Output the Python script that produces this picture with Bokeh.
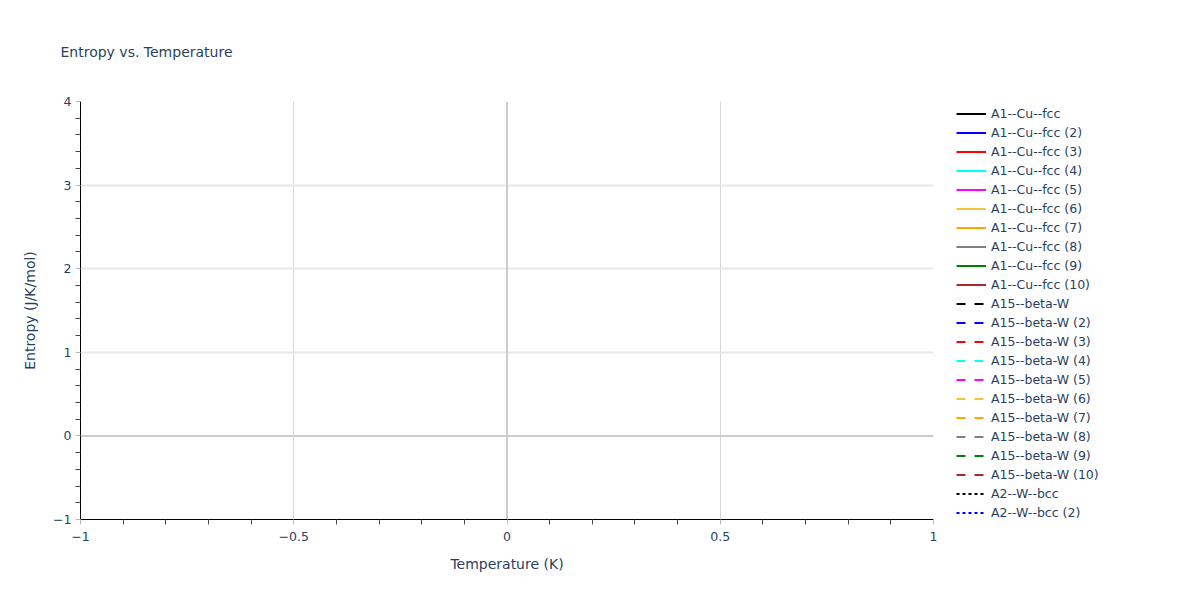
import math
from bokeh.plotting import figure
from bokeh.layouts import row
from bokeh.models import (Range1d, FixedTicker, Legend, LegendItem, Span, Title,
                          CustomJSTickFormatter)
from bokeh.embed import file_html
from bokeh.resources import INLINE

# ---- data ----
series_names = [
    "A1--Cu--fcc", "A1--Cu--fcc (2)", "A1--Cu--fcc (3)", "A1--Cu--fcc (4)",
    "A1--Cu--fcc (5)", "A1--Cu--fcc (6)", "A1--Cu--fcc (7)", "A1--Cu--fcc (8)",
    "A1--Cu--fcc (9)", "A1--Cu--fcc (10)",
    "A15--beta-W", "A15--beta-W (2)", "A15--beta-W (3)", "A15--beta-W (4)",
    "A15--beta-W (5)", "A15--beta-W (6)", "A15--beta-W (7)", "A15--beta-W (8)",
    "A15--beta-W (9)", "A15--beta-W (10)",
    "A2--W--bcc", "A2--W--bcc (2)",
]
palette = ["black", "blue", "red", "cyan", "magenta", "#f0c43c", "orange",
           "gray", "green", "brown"]
series_colors = palette + palette + ["black", "blue"]
series_dashes = ["solid"] * 10 + ["9 9"] * 10 + ["3 3"] * 2
# every series in the reference has no drawable points
temperature = [[math.nan] for _ in series_names]
entropy = [[math.nan] for _ in series_names]

x_major = [-1, -0.5, 0, 0.5, 1]
x_minor = [-0.9, -0.8, -0.7, -0.6, -0.4, -0.3, -0.2, -0.1,
           0.1, 0.2, 0.3, 0.4, 0.6, 0.7, 0.8, 0.9]
y_major = [-1, 0, 1, 2, 3, 4]
y_minor = [-0.8, -0.6, -0.4, -0.2, 0.2, 0.4, 0.6, 0.8, 1.2, 1.4, 1.6, 1.8,
           2.2, 2.4, 2.6, 2.8, 3.2, 3.4, 3.6, 3.8]

FONT = "DejaVu Sans"
TXT = "#2a3f5f"

# ---- main plot ----
p = figure(width=943, height=584, output_backend="svg", toolbar_location=None,
           x_range=Range1d(-1, 1), y_range=Range1d(-1, 4),
           min_border_left=80, min_border_right=10, min_border_top=100,
           min_border_bottom=65)
p.outline_line_color = None
p.background_fill_color = "white"

p.title = Title(text="Entropy vs. Temperature", align="left", offset=-20,
                standoff=83, text_font=FONT, text_font_size="14px",
                text_color=TXT, text_font_style="normal")

for col, dash, xs, ys in zip(series_colors, series_dashes, temperature, entropy):
    p.line(x=xs, y=ys, line_color=col, line_width=2, line_dash=dash)

p.xgrid.ticker = FixedTicker(ticks=[-0.5, 0.5])
p.xgrid.grid_line_color = "#d6d6d6"
p.xgrid.grid_line_width = 1
p.ygrid.ticker = FixedTicker(ticks=[1, 2, 3])
p.ygrid.grid_line_color = "#e8e8e8"
p.ygrid.grid_line_width = 2
p.add_layout(Span(location=0, dimension="height", line_color="#cccccc",
                  line_width=2, level="underlay"))
p.add_layout(Span(location=0, dimension="width", line_color="#cccccc",
                  line_width=2, level="underlay"))

fmt = CustomJSTickFormatter(code="return tick < 0 ? '\\u2212' + Math.abs(tick) : String(tick);")

for ax, major, minor, label in ((p.xaxis[0], x_major, x_minor, "Temperature (K)"),
                                (p.yaxis[0], y_major, y_minor, "Entropy (J/K/mol)")):
    ax.ticker = FixedTicker(ticks=major, minor_ticks=minor)
    ax.formatter = fmt
    ax.axis_line_color = "black"
    ax.axis_line_width = 1
    ax.major_tick_line_color = "#bbbbbb"
    ax.major_tick_out = 5
    ax.major_tick_in = 0
    ax.minor_tick_line_color = "#444444"
    ax.minor_tick_out = 5
    ax.minor_tick_in = 0
    ax.major_label_text_font = FONT
    ax.major_label_text_font_size = "12.5px"
    ax.major_label_text_color = TXT
    ax.axis_label = label
    ax.axis_label_text_font = FONT
    ax.axis_label_text_font_size = "14px"
    ax.axis_label_text_font_style = "normal"
    ax.axis_label_text_color = TXT

p.xaxis.major_label_standoff = 7
p.xaxis.axis_label_standoff = 12
p.yaxis.major_label_standoff = 4
p.yaxis.axis_label_standoff = 12

# ---- legend panel (same series, no drawable points) ----
q = figure(width=241, height=584, output_backend="svg", toolbar_location=None,
           x_range=Range1d(0, 1), y_range=Range1d(0, 1),
           x_axis_location=None, y_axis_location=None,
           min_border_left=0, min_border_right=0, min_border_top=0,
           min_border_bottom=0)
q.outline_line_color = None
q.grid.visible = False

items = []
for name, col, dash, xs, ys in zip(series_names, series_colors, series_dashes,
                                   temperature, entropy):
    r = q.line(x=xs, y=ys, line_color=col, line_width=2, line_dash=dash)
    items.append(LegendItem(label=name, renderers=[r]))

legend = Legend(items=items, location=(13, -3), glyph_width=30, glyph_height=19,
                label_height=19, spacing=0, padding=0, margin=0,
                label_standoff=5, border_line_color=None,
                background_fill_alpha=0, label_text_font=FONT,
                label_text_font_size="12.5px", label_text_color=TXT)
q.add_layout(legend)

open("out.html", "w").write(file_html(row(p, q), INLINE))
